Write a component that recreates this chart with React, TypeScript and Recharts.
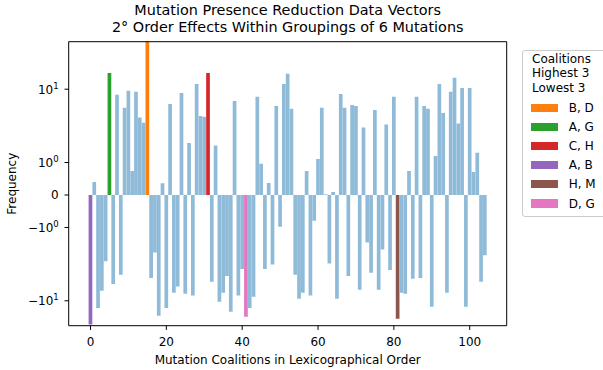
import React from 'react';
import { BarChart, Bar, XAxis, YAxis, Cell, ReferenceLine, Label } from 'recharts';

// raw frequencies, one per coalition (lexicographical order)
const values = [
  -21, 0.4, -12.5, -7.3, -2.9, 16.7, -5.9, 8.4, -4.4, 5.6,
  9.5, 0.74, 9.2, 4.1, 3.5, 48, -4.9, -2.2, -16, 0.36,
  -12.5, 6.3, -7.8, -6.4, 8.9, -8.0, 1.85, -8.5, 11.8, 4.3,
  4.2, 16.7, -5.5, 1.7, -10.3, -7.8, -4.6, -14.1, 6.9, -8.5,
  -3.7, -16.5, -12.5, -8.8, 7.9, 0.96, -3.7, 0.37, -3.2, 5.9,
  -0.98, 11.8, 16.2, 5.4, -4.4, -9.4, -7.8, 0.74, -8.5, -0.79,
  1.12, 5.6, 0.02, -3.1, 0.09, -9.4, 8.6, 5.6, -4.6, 6.1,
  5.9, -7.1, 3.0, -1.6, -4.15, 5.2, -7.1, -2.0, 3.3, -3.8,
  7.9, -17.6, -7.8, -8.0, 0.74, -5.0, 7.9, -4.9, 5.9, 5.4,
  -12.1, 1.23, 11.8, 4.75, -7.8, 9.2, 14.3, 3.4, 10.4, -12.1,
  10.4, 0.71, 1.36, -5.5, -2.4,
];

const highlightIdx = [15, 5, 31, 0, 81, 41];
const highlightLabels = ['B, D', 'A, G', 'C, H', 'A, B', 'H, M', 'D, G'];
const highlightColors = ['#ff7f0e', '#2ca02c', '#d62728', '#9467bd', '#8c564b', '#e377c2'];
const legendTitle = ['Coalitions', 'Highest 3', 'Lowest 3'];

const xTicks = [0, 20, 40, 60, 80, 100];
const yTickValues = [-10, -1, 0, 1, 10];
const yTickBase = ['\u221210', '\u221210', '0', '10', '10'];
const yTickExp = ['1', '0', '', '0', '1'];

const BASE_COLOR = '#8fbbd9';
const LIN = 0.443; // size of linear region relative to one decade

// symmetric log transform (linthresh = 1)
const symlog = (v: number) => {
  const a = Math.abs(v);
  const t = a <= 1 ? a * LIN : LIN + Math.log10(a);
  return v < 0 ? -t : t;
};

const X_MIN = -5.75;
const X_MAX = 109.75;
const Y_MIN = -1.783;
const Y_MAX = 2.091;

const chartData = values.map((v, i) => ({ idx: i, raw: v, y: symlog(v) }));
const yTickPos = yTickValues.map(symlog);

const colorFor = (i: number) => {
  const k = highlightIdx.indexOf(i);
  return k >= 0 ? highlightColors[k] : BASE_COLOR;
};

const YTick = ({ x, y, payload }: any) => {
  const k = yTickPos.findIndex(p => Math.abs(p - payload.value) < 1e-6);
  if (k < 0) return null;
  return (
    <text x={x} y={y} textAnchor="end" fontSize={12} fill="#000">
      <tspan dy={4.3}>{yTickBase[k]}</tspan>
      {yTickExp[k] && <tspan dy={-5} fontSize={8.5}>{yTickExp[k]}</tspan>}
    </text>
  );
};

const App: React.FC = () => {
  return (
    <div style={{ position: 'absolute', left: 0, top: 0, width: 603, height: 370, overflow: 'hidden', background: '#fff', fontFamily: '"DejaVu Sans", sans-serif' }}>
      <div style={{ position: 'absolute', left: 68.7, width: 438, top: 2.3, fontSize: 14.4, lineHeight: '16.8px', textAlign: 'center', color: '#000' }}>
        <div>Mutation Presence Reduction Data Vectors</div>
        <div>2° Order Effects Within Groupings of 6 Mutations</div>
      </div>

      <BarChart width={603} height={370} data={chartData} margin={{ top: 41.7, right: 96.3, bottom: 0, left: 0 }}>
        <XAxis
          dataKey="idx"
          type="number"
          domain={[X_MIN, X_MAX]}
          ticks={xTicks}
          allowDataOverflow
          height={44.3}
          tickSize={4.2}
          tickMargin={8}
          stroke="#000"
          tick={{ fill: '#000', fontSize: 12 }}
        >
          <Label value="Mutation Coalitions in Lexicographical Order" position="insideBottom" offset={5.7} fill="#000" fontSize={12} />
        </XAxis>
        <YAxis
          type="number"
          domain={[Y_MIN, Y_MAX]}
          ticks={yTickPos}
          allowDataOverflow
          width={68.7}
          tickSize={4.2}
          tickMargin={5.8}
          stroke="#000"
          tick={<YTick />}
        >
          <Label value="Frequency" angle={-90} position="insideLeft" offset={12} fill="#000" fontSize={12} style={{ textAnchor: 'middle' }} />
        </YAxis>
        <ReferenceLine y={Y_MAX} stroke="#000" />
        <ReferenceLine x={X_MAX} stroke="#000" />
        <Bar dataKey="y" barSize={3.7} isAnimationActive={false}>
          {chartData.map((d) => (
            <Cell key={`cell-${d.idx}`} fill={colorFor(d.idx)} />
          ))}
        </Bar>
      </BarChart>

      <div style={{ position: 'absolute', left: 522, top: 50, width: 100, height: 165, border: '1px solid #cccccc', borderRadius: 3, background: '#fff', fontSize: 12, color: '#000' }}>
        <div style={{ position: 'absolute', left: 9, top: 1, lineHeight: '14.3px' }}>
          {legendTitle.map(t => <div key={t}>{t}</div>)}
        </div>
        {highlightLabels.map((lab, k) => (
          <div key={lab} style={{ position: 'absolute', left: 0, top: 57 + 19.1 * k - 7, height: 14, width: 100 }}>
            <div style={{ position: 'absolute', left: 8, top: 2.8, width: 26.7, height: 8.3, background: highlightColors[k] }} />
            <div style={{ position: 'absolute', left: 45.7, top: 0, lineHeight: '14px' }}>{lab}</div>
          </div>
        ))}
      </div>
    </div>
  );
};

export default App;
